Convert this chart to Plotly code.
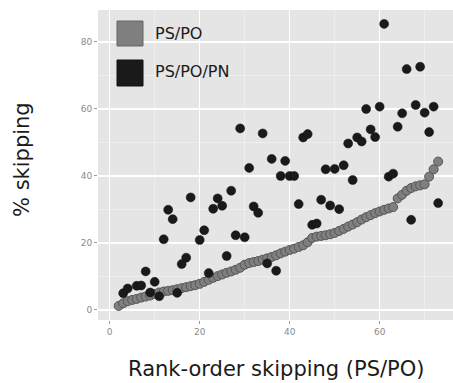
import plotly.graph_objects as go

# ---- data ----
rank = list(range(1, 74))
ps_po = [None, 1.2, 2.0, 2.6, 3.0, 3.3, 3.7, 4.0, 4.3, 4.8,
         5.2, 5.5, 5.7, 5.9, 6.2, 6.5, 6.8, 7.1, 7.4, 7.8,
         8.4, 9.0, 9.6, 10.1, 10.6, 11.1, 11.5, 12.0, 12.6, 13.5,
         14.0, 14.3, 14.6, 15.0, 15.4, 15.8, 16.3, 16.9, 17.4, 17.9,
         18.3, 18.8, 19.3, 20.2, 21.5, 21.9, 22.1, 22.3, 22.6, 23.0,
         23.6, 24.2, 24.9, 25.5, 26.2, 27.0, 27.7, 28.3, 28.9, 29.4,
         29.9, 30.3, 30.7, 33.3, 34.4, 35.6, 36.4, 36.9, 37.2, 37.5,
         39.8, 42.0, 44.3]
ps_po_pn = [None, None, 5.0, 6.4, None, 7.2, 7.3, 11.5, 5.2, 8.4,
            4.1, 21.1, 29.9, 27.1, 5.1, 13.7, 15.6, 33.6, None, 20.9,
            23.8, 11.0, 30.2, 33.3, 31.1, 16.1, 35.6, 22.3, 54.2, 21.7,
            42.4, 30.9, 29.0, 52.7, 13.9, 45.1, 11.7, 40.0, 44.5, 40.0,
            40.0, 31.6, 51.5, 52.5, 25.4, 25.8, 32.9, 42.0, 31.2, 42.1,
            30.1, 43.2, 49.7, 38.8, 51.5, 50.3, 60.0, 53.9, 51.6, 60.7,
            85.4, 39.8, 40.7, 54.7, 58.7, 71.9, 26.9, 61.2, 72.6, 58.9,
            53.1, 60.7, 31.9]
series_names = ["PS/PO", "PS/PO/PN"]
x_ticks = [0, 20, 40, 60]
y_ticks = [0, 20, 40, 60, 80]
x_title = "Rank-order skipping (PS/PO)"
y_title = "% skipping"

FONT = "DejaVu Sans"
GRAY_FILL = "#7f7f7f"
GRAY_LINE = "#555555"
BLACK_FILL = "#1a1a1a"

fig = go.Figure()
fig.add_trace(go.Scatter(
    x=rank, y=ps_po, mode="markers", name=series_names[0], showlegend=False,
    marker=dict(size=9, color=GRAY_FILL, line=dict(color=GRAY_LINE, width=1)),
))
fig.add_trace(go.Scatter(
    x=rank, y=ps_po_pn, mode="markers", name=series_names[1], showlegend=False,
    marker=dict(size=9, color=BLACK_FILL, line=dict(color="#111111", width=0.5)),
))

L, T, B = 98, 10, 63
W, H = 453, 383
pw, ph = W - L, H - T - B

def px(xp):
    return (xp - L) / pw

def py(yp):
    return (H - B - yp) / ph

axis_common = dict(
    showgrid=True, gridcolor="white", gridwidth=1.2, zeroline=False,
    ticks="outside", ticklen=3, tickcolor="#9a9a9a", tickwidth=1,
    tickfont=dict(family=FONT, size=9, color="#8a8a8a"),
    showline=False, automargin=False,
)

fig.update_layout(
    width=W, height=H, autosize=False,
    margin=dict(l=L, r=0, t=T, b=B, pad=0),
    paper_bgcolor="white", plot_bgcolor="#e5e5e5",
    xaxis=dict(range=[-2.6, 76.3], tickvals=x_ticks,
               minor=dict(showgrid=True, gridcolor="#f4f4f4", gridwidth=0.6, dtick=10, tick0=0),
               **axis_common),
    yaxis=dict(range=[-3.0, 89.55], tickvals=y_ticks,
               minor=dict(showgrid=True, gridcolor="#f4f4f4", gridwidth=0.6, dtick=10, tick0=0),
               **axis_common),
    font=dict(family=FONT),
)

# axis titles
fig.add_annotation(text=x_title, xref="paper", yref="paper", x=px(276.5), y=py(369),
                   showarrow=False, font=dict(family=FONT, size=21, color="#1a1a1a"),
                   xanchor="center", yanchor="middle")
fig.add_annotation(text=y_title, xref="paper", yref="paper", x=px(22), y=py(160),
                   showarrow=False, textangle=-90, font=dict(family=FONT, size=21, color="#1a1a1a"),
                   xanchor="center", yanchor="middle")

# legend (keys drawn as squares, labels as text)
keys = [(GRAY_FILL, "#666666", 21, 46, 33), (BLACK_FILL, "#111111", 60, 86, 72)]
for (fill, edge, y0, y1, yc), name in zip(keys, series_names):
    fig.add_shape(type="rect", xref="paper", yref="paper",
                  x0=px(117), x1=px(143), y0=py(y1), y1=py(y0),
                  fillcolor=fill, line=dict(color=edge, width=1))
    fig.add_annotation(text=name, xref="paper", yref="paper", x=px(153), y=py(yc),
                       showarrow=False, xanchor="left", yanchor="middle",
                       font=dict(family=FONT, size=16, color="#1a1a1a"))

fig.write_html("out.html",
               config={"displayModeBar": False, "staticPlot": True},
               post_script="document.body.style.margin='0';document.body.style.overflow='hidden';")
